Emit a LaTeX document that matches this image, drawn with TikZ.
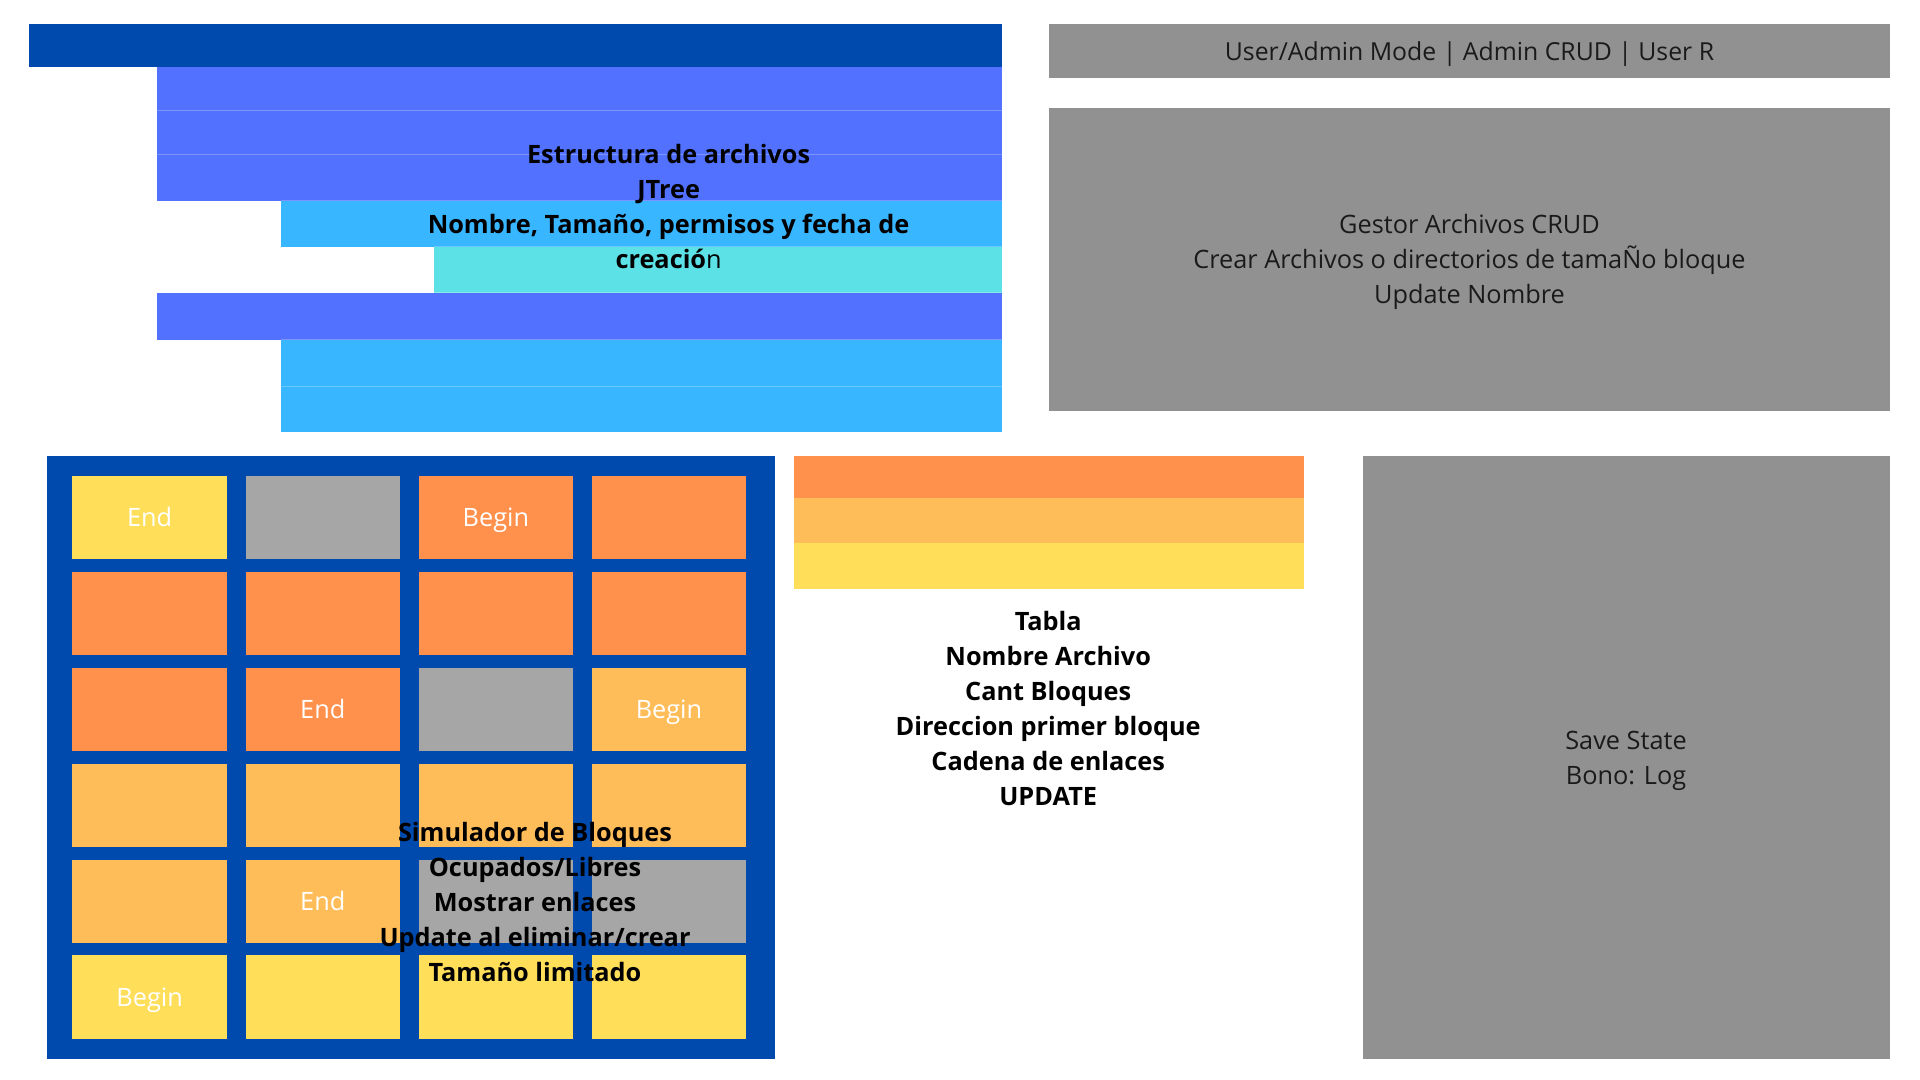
\documentclass[tikz,border=0pt]{standalone}
\usepackage{fontspec}
\setmainfont{Open Sans}
\definecolor{dkblue}{HTML}{004AAD}
\definecolor{blueA}{HTML}{5271FF}
\definecolor{ltblue}{HTML}{38B6FF}
\definecolor{cyanA}{HTML}{5CE1E6}
\definecolor{grayA}{HTML}{919191}
\definecolor{grayB}{HTML}{A6A6A6}
\definecolor{yel}{HTML}{FFDE59}
\definecolor{ora}{HTML}{FF914D}
\definecolor{lor}{HTML}{FFBD59}
\definecolor{txtdark}{HTML}{1A1A1A}
\begin{document}
\begin{tikzpicture}[x=0.5pt,y=-0.5pt,
  txt/.style={inner sep=0pt, align=center, font=\fontsize{12.65}{17.5}\selectfont, text=txtdark},
  boldtxt/.style={inner sep=0pt, align=center, font=\fontsize{12.65}{17.5}\selectfont\bfseries, text=black},
  cell/.style={inner sep=0pt, minimum width=77.25pt, minimum height=41.65pt, text height=10pt, text depth=1pt, text=white, font=\fontsize{12.65}{17.5}\selectfont},
  sepline/.style={white, opacity=0.25, line width=0.5pt}]
\useasboundingbox (0,0) rectangle (1920,1080);
\fill[white] (0,0) rectangle (1920,1080);
% top-left bars
\fill[dkblue] (29,24.5) rectangle (1002,67.5);
\fill[blueA] (157,67.5) rectangle (1002,201);
\fill[ltblue] (280.6,201) rectangle (1002,247);
\fill[cyanA] (434,247) rectangle (1002,293);
\fill[blueA] (157,293) rectangle (1002,340);
\fill[ltblue] (280.6,340) rectangle (1002,432);
\draw[sepline] (157,111) -- (1002,111);
\draw[sepline] (157,155) -- (1002,155);
\draw[sepline] (280.6,201) -- (1002,201);
\draw[sepline] (434,247) -- (1002,247);
\draw[sepline] (434,293) -- (1002,293);
\draw[sepline] (280.6,340) -- (1002,340);
\draw[sepline] (280.6,386) -- (1002,386);
\node[boldtxt] (tree) at (668.6,207) {Estructura de archivos\\JTree\\Nombre, Tamaño, permisos y fecha de\\creació{\mdseries n}};
% right top gray boxes
\fill[grayA] (1049.4,24.5) rectangle (1889.6,78.5);
\node[txt, font=\fontsize{12.4}{17.5}\selectfont] (mode) at (1469.5,54) {User/Admin Mode | Admin CRUD | User R};
\fill[grayA] (1049.4,108) rectangle (1889.6,411);
\node[txt] (gestor) at (1469.5,262) {Gestor Archivos CRUD\\Crear Archivos o directorios de tamaÑo bloque\\Update Nombre};
% right bottom gray
\fill[grayA] (1362.9,455.5) rectangle (1889.6,1059.2);
\node[txt] (save) at (1626,760.5) {Save State\\Bono: Log};
% middle table bars
\fill[ora] (793.5,455.5) rectangle (1304,498.4);
\fill[lor] (793.5,498.4) rectangle (1304,542.5);
\fill[yel] (793.5,542.5) rectangle (1304,589);
\node[boldtxt] (tabla) at (1048.2,709) {Tabla\\Nombre Archivo\\Cant Bloques\\Direccion primer bloque\\Cadena de enlaces\\UPDATE};
% grid
\fill[dkblue] (46.7,455.5) rectangle (775,1059);
\foreach \r/\row in {1/{yel/End,grayB/,ora/Begin,ora/},
                     2/{ora/,ora/,ora/,ora/},
                     3/{ora/,ora/End,grayB/,lor/Begin},
                     4/{lor/,lor/,lor/,lor/},
                     5/{lor/,lor/End,grayB/,grayB/},
                     6/{yel/Begin,yel/,yel/,yel/}}{
  \foreach \col/\lab [count=\c] in \row {
    \node[cell, fill=\col] (c\r\c) at ({149.65+173.1*(\c-1)},{517.55+95.9*(\r-1)}) {\lab};
  }
}
\node[boldtxt] (sim) at (535,902) {Simulador de Bloques\\Ocupados/Libres\\Mostrar enlaces\\Update al eliminar/crear\\Tamaño limitado};
\end{tikzpicture}
\end{document}
